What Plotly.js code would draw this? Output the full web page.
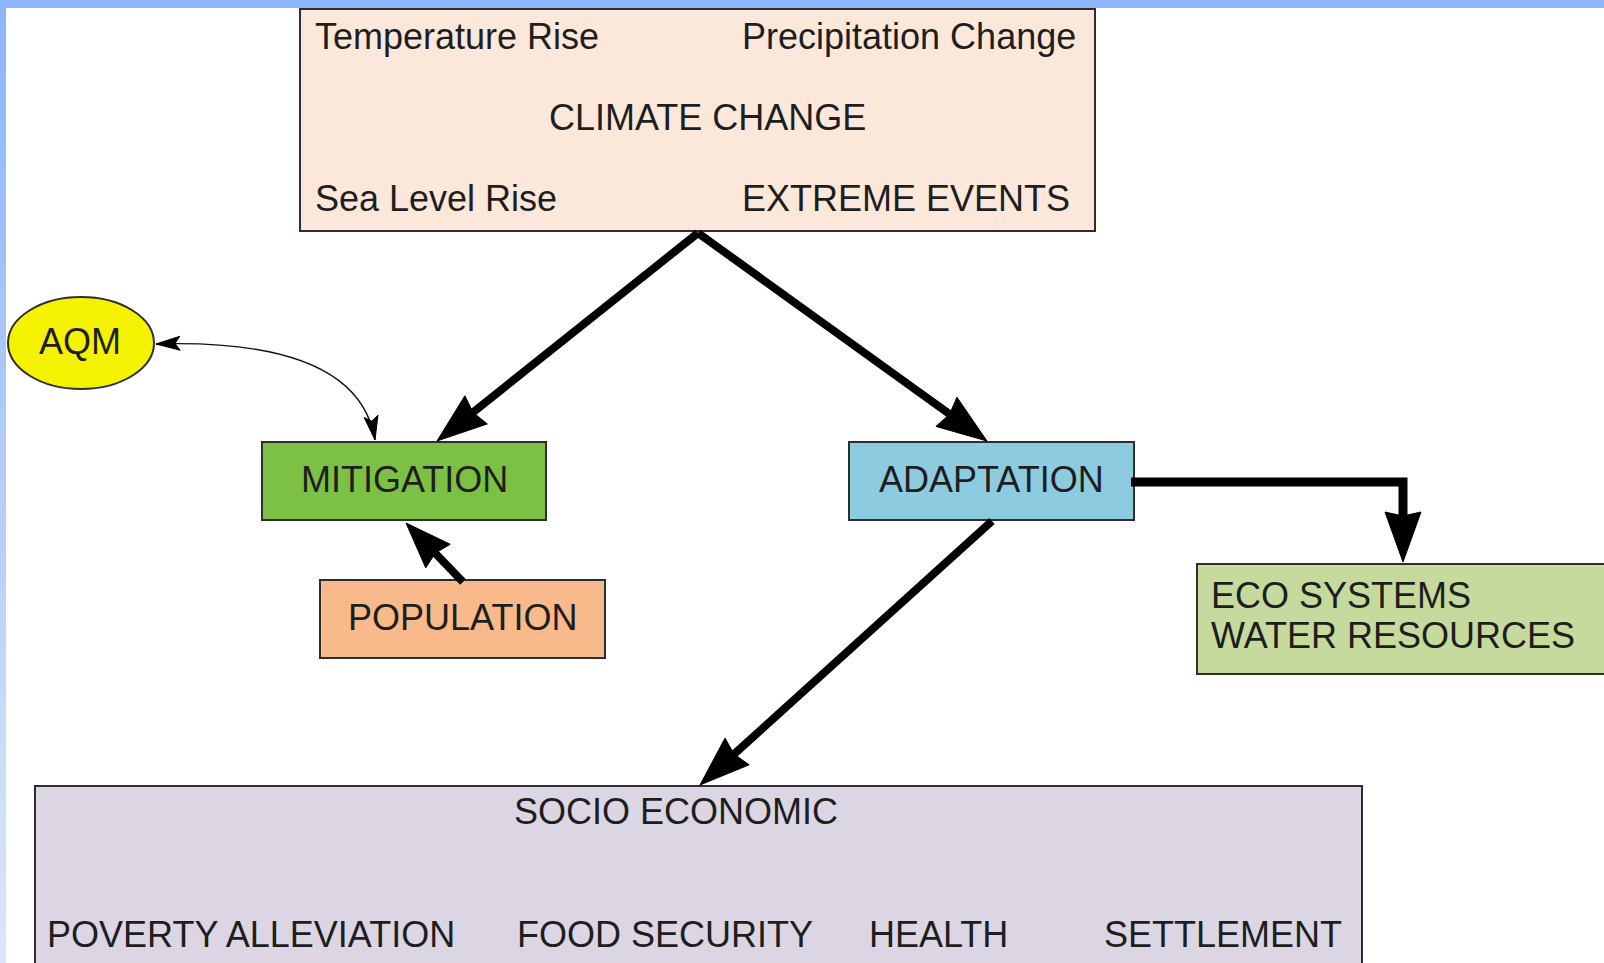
<!DOCTYPE html>
<html><head><meta charset="utf-8">
<script src="https://cdn.plot.ly/plotly-3.0.1.min.js"></script>
<style>html,body{margin:0;padding:0;background:#fff;overflow:hidden}#chart{width:1604px;height:963px}</style>
</head><body><div id="chart"></div>
<script>
// ---- Diagram content ----
const nodeIds    = ['climate', 'aqm', 'mitigation', 'population', 'adaptation', 'eco', 'socio'];
const climateTexts = ['Temperature Rise', 'Precipitation Change', 'CLIMATE CHANGE', 'Sea Level Rise', 'EXTREME EVENTS'];
const simpleLabels = ['AQM', 'MITIGATION', 'POPULATION', 'ADAPTATION'];
const ecoLines     = ['ECO SYSTEMS', 'WATER RESOURCES'];
const socioTitle   = 'SOCIO ECONOMIC';
const socioItems   = ['POVERTY ALLEVIATION', 'FOOD SECURITY', 'HEALTH', 'SETTLEMENT'];
// edges: from -> to
const edgeFrom = ['climate', 'climate', 'adaptation', 'population', 'adaptation', 'mitigation'];
const edgeTo   = ['mitigation', 'adaptation', 'socio', 'mitigation', 'eco', 'aqm'];

// ---- Geometry (pixel layout of the diagram) ----
const geo = {
  climate:    {x0: 300, y0: 9,   x1: 1095, y1: 231, fill: '#fce8da'},
  aqm:        {x0: 8,   y0: 297, x1: 154,  y1: 389, fill: '#f5f200', ellipse: true},
  mitigation: {x0: 262, y0: 442, x1: 546,  y1: 520, fill: '#7cc143'},
  population: {x0: 320, y0: 580, x1: 605,  y1: 658, fill: '#f8b98b'},
  adaptation: {x0: 849, y0: 442, x1: 1134, y1: 520, fill: '#8dcbe0'},
  eco:        {x0: 1197,y0: 564, x1: 1640, y1: 674, fill: '#c7da9e'},
  socio:      {x0: 35,  y0: 786, x1: 1362, y1: 1000, fill: '#dcd6e4'}
};
const edgeGeo = [
  {pts: [[698, 233], [437, 441]], w: 8, L: 50, H: 18},
  {pts: [[698, 233], [987, 441]], w: 8, L: 50, H: 18},
  {pts: [[992, 521], [700, 785]], w: 8, L: 50, H: 18},
  {pts: [[463, 582], [406, 523]], w: 8, L: 46, H: 17},
  {pts: [[1131, 482], [1403, 482], [1403, 562]], w: 9, L: 50, H: 18},
  {curve: [[375, 440], [358, 338], [156, 344]], w: 1.4, L: 24, H: 7, both: true}
];

const FONT = 'Liberation Sans, Arial, Helvetica, sans-serif';
const TXT = '#1e1e1e';
const shapes = [];
const ann = [];

// page frame (blue band top and left)
const topC = [141, 182, 250], botC = [218, 230, 248];
const NB = 40;
for (let i = 0; i < NB; i++) {
  const t = i / (NB - 1);
  const c = topC.map((v, k) => Math.round(v + (botC[k] - v) * t));
  shapes.push({type: 'rect', xref: 'x', yref: 'y', x0: 0, x1: 6, y0: i * 963 / NB, y1: (i + 1) * 963 / NB + 1,
    fillcolor: `rgb(${c.join(',')})`, line: {width: 0}, layer: 'below'});
}
shapes.push({type: 'rect', xref: 'x', yref: 'y', x0: 0, x1: 1604, y0: 0, y1: 8, fillcolor: '#8db6fb', line: {width: 0}, layer: 'below'});

// nodes
nodeIds.forEach(id => {
  const g = geo[id];
  shapes.push({type: g.ellipse ? 'circle' : 'rect', xref: 'x', yref: 'y', x0: g.x0, x1: g.x1, y0: g.y0, y1: g.y1,
    fillcolor: g.fill, line: {color: '#2e2e2e', width: 2}, layer: 'below'});
});

function text(t, x, y, xa) {
  ann.push({text: t, x: x, y: y, xref: 'x', yref: 'y', xanchor: xa || 'center', yanchor: 'middle', showarrow: false,
    font: {family: FONT, size: 36, color: TXT}});
}
// climate texts
text(climateTexts[0], 313, 36, 'left');
text(climateTexts[1], 1078, 36, 'right');
text(climateTexts[2], 707, 117, 'center');
text(climateTexts[3], 313, 198, 'left');
text(climateTexts[4], 1072, 198, 'right');
// simple nodes
['aqm', 'mitigation', 'population', 'adaptation'].forEach((id, i) => {
  const g = geo[id];
  text(simpleLabels[i], (g.x0 + g.x1) / 2 + (id === 'aqm' ? -1 : 0), (g.y0 + g.y1) / 2 - 2, 'center');
});
text(ecoLines[0], 1209, 595, 'left');
text(ecoLines[1], 1209, 635, 'left');
text(socioTitle, 676, 811, 'center');
const socioX = [45, 515, 867, 1102];
socioItems.forEach((s, i) => text(s, socioX[i], 934, 'left'));

// arrows
function head(tip, dir, L, H, notch) {
  const n = [-dir[1], dir[0]];
  const b = [tip[0] - dir[0] * L, tip[1] - dir[1] * L];
  const p1 = [b[0] + n[0] * H, b[1] + n[1] * H];
  const p2 = [b[0] - n[0] * H, b[1] - n[1] * H];
  const m = [b[0] + dir[0] * notch, b[1] + dir[1] * notch];
  shapes.push({type: 'path', xref: 'x', yref: 'y',
    path: `M${tip[0]},${tip[1]} L${p1[0]},${p1[1]} L${m[0]},${m[1]} L${p2[0]},${p2[1]} Z`,
    fillcolor: '#000', line: {color: '#000', width: 1}});
  return b;
}
function unit(a, b) { const dx = b[0] - a[0], dy = b[1] - a[1]; const d = Math.hypot(dx, dy); return [dx / d, dy / d]; }

edgeGeo.forEach(e => {
  if (e.curve) {
    const [p0, c, p2] = e.curve;
    shapes.push({type: 'path', xref: 'x', yref: 'y', path: `M${p0[0]},${p0[1]} Q${c[0]},${c[1]} ${p2[0]},${p2[1]}`,
      line: {color: '#111', width: e.w}});
    head(p0, unit(c, p0), e.L, e.H, 5);
    head(p2, unit(c, p2), e.L, e.H, 5);
    return;
  }
  const pts = e.pts;
  const last = pts[pts.length - 1], prev = pts[pts.length - 2];
  const dir = unit(prev, last);
  const b = head(last, dir, e.L, e.H, 4);
  let path = `M${pts[0][0]},${pts[0][1]}`;
  for (let i = 1; i < pts.length - 1; i++) path += ` L${pts[i][0]},${pts[i][1]}`;
  path += ` L${b[0] + dir[0] * 8},${b[1] + dir[1] * 8}`;
  shapes.push({type: 'path', xref: 'x', yref: 'y', path: path, line: {color: '#000', width: e.w}});
});

const layout = {
  width: 1604, height: 963,
  margin: {l: 0, r: 0, t: 0, b: 0},
  paper_bgcolor: '#ffffff', plot_bgcolor: '#ffffff',
  xaxis: {range: [0, 1604], visible: false, fixedrange: true},
  yaxis: {range: [963, 0], visible: false, fixedrange: true},
  showlegend: false,
  shapes: shapes,
  annotations: ann
};
Plotly.newPlot('chart', [{x: [0], y: [0], mode: 'markers', marker: {opacity: 0}, hoverinfo: 'skip'}], layout,
  {displayModeBar: false, staticPlot: true});
</script></body></html>
